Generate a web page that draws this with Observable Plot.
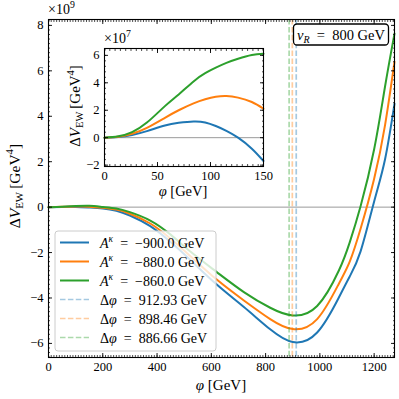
<!DOCTYPE html>
<html><head><meta charset="utf-8">
<script src="https://cdn.jsdelivr.net/npm/d3@7"></script>
<script src="https://cdn.jsdelivr.net/npm/@observablehq/plot@0.6"></script>
<style>
body{margin:0;background:#fff;}
#wrap{position:relative;width:399px;height:399px;font-family:"Liberation Serif",serif;overflow:hidden;}
#wrap > svg, #wrap > figure{position:absolute;margin:0;}
</style></head><body><div id="wrap"></div>
<script>
// ---- main panel data (units 1e9 GeV^4) ----
const phi = [0, 50, 100, 150, 200, 250, 300, 375, 450, 525, 620, 720, 817, 900, 990, 1070, 1110, 1150, 1200, 1240, 1275];
const vBlue = [0, 0.009, 0.010, -0.017, -0.06, -0.16, -0.37, -0.84, -1.54, -2.35, -3.41, -4.40, -5.38, -5.94, -5.52, -3.98, -3.05, -1.95, 0.25, 2.1, 4.55];
const vOrange = [0, 0.015, 0.024, 0.021, -0.03, -0.11, -0.29, -0.72, -1.39, -2.18, -3.19, -4.11, -4.93, -5.37, -4.93, -3.37, -2.4, -0.95, 1.25, 3.6, 6.4];
const vGreen = [0, 0.019, 0.047, 0.061, 0.01, -0.06, -0.22, -0.59, -1.21, -1.98, -2.86, -3.74, -4.43, -4.77, -4.35, -2.79, -1.55, 0.04, 2.55, 5.3, 7.64];
// ---- inset data (units 1e7 GeV^4) ----
const phiIn = [0, 13, 26, 40, 57, 70, 84, 95, 105, 115, 126, 139, 150];
const vBlueIn = [0, 0.05, 0.2, 0.48, 0.89, 1.08, 1.18, 1.11, 0.85, 0.5, 0, -0.8, -1.70];
const vOrangeIn = [0, 0.07, 0.29, 0.72, 1.45, 2.0, 2.5, 2.8, 2.98, 3.03, 2.92, 2.6, 2.11];
const vGreenIn = [0, 0.1, 0.41, 1.1, 2.3, 3.15, 4.1, 4.7, 5.1, 5.45, 5.75, 6.02, 6.12];
// ---- series meta ----
const aKappa = ["−900.0", "−880.0", "−860.0"];
const deltaPhi = [912.93, 898.46, 886.66];
const colors = ["#1f77b4", "#ff7f0e", "#2ca02c"];
const xTicks = [0, 200, 400, 600, 800, 1000, 1200];
const yTicks = [-6, -4, -2, 0, 2, 4, 6, 8];
const xTicksIn = [0, 50, 100, 150];
const yTicksIn = [-2, 0, 2, 4, 6];

const FONT = "Liberation Serif, serif";
const series = [vBlue, vOrange, vGreen];
const seriesIn = [vBlueIn, vOrangeIn, vGreenIn];
const toRows = (xs, ys) => xs.map((x, i) => ({x, y: ys[i]}));
const fmt = d => (d < 0 ? "−" : "") + Math.abs(d);

function frameAxes(xMaj, xMin, yMaj, yMin, pad) {
  const out = [];
  for (const anchor of ["bottom", "top"]) {
    out.push(Plot.axisX(xMaj, {anchor, tickSize: -4, fill: "none", label: null, strokeWidth: 0.9}));
    out.push(Plot.axisX(xMin, {anchor, tickSize: -2, fill: "none", label: null, strokeWidth: 0.7}));
  }
  for (const anchor of ["left", "right"]) {
    out.push(Plot.axisY(yMaj, {anchor, tickSize: -4, fill: "none", label: null, strokeWidth: 0.9}));
    out.push(Plot.axisY(yMin, {anchor, tickSize: -2, fill: "none", label: null, strokeWidth: 0.7}));
  }
  out.push(Plot.axisX(xMaj, {anchor: "bottom", tickSize: 0, tickPadding: pad, label: null, fill: "black", tickFormat: fmt}));
  out.push(Plot.axisY(yMaj, {anchor: "left", tickSize: 0, tickPadding: pad, label: null, fill: "black", tickFormat: fmt}));
  return out;
}

const wrap = document.getElementById("wrap");

// ---- main plot ----
const main = Plot.plot({
  width: 399, height: 399,
  marginLeft: 48, marginRight: 5, marginTop: 19, marginBottom: 42,
  x: {domain: [0, 1275], label: null},
  y: {domain: [-6.62, 8.26], label: null},
  style: {fontFamily: FONT, fontSize: "12.5px", color: "black", background: "white"},
  marks: [
    Plot.ruleY([0], {stroke: "#9a9a9a", strokeWidth: 1}),
    ...series.map((s, i) => Plot.line(toRows(phi, s), {x: "x", y: "y", stroke: colors[i], strokeWidth: 2, curve: "natural"})),
    ...deltaPhi.map((d, i) => Plot.ruleX([d], {stroke: colors[i], strokeOpacity: 0.4, strokeWidth: 1.7, strokeDasharray: "5.5,2.4"})),
    ...frameAxes(xTicks, d3.range(0, 1276, 10), yTicks, d3.range(-6.6, 8.3, 0.2).map(v => +v.toFixed(1)), 5),
    Plot.frame({stroke: "black", strokeWidth: 1.1})
  ]
});
main.style.left = "0px"; main.style.top = "0px";
wrap.appendChild(main);

// ---- inset plot ----
const iml = 40, imt = 20, imr = 10, imb = 35;
const inset = Plot.plot({
  width: iml + 159 + imr, height: imt + 118 + imb,
  marginLeft: iml, marginRight: imr, marginTop: imt, marginBottom: imb,
  x: {domain: [0, 150], label: null},
  y: {domain: [-2.1, 6.5], label: null},
  style: {fontFamily: FONT, fontSize: "12.5px", color: "black", background: "none", overflow: "visible"},
  marks: [
    Plot.frame({fill: "white", stroke: "none"}),
    Plot.ruleY([0], {stroke: "#9a9a9a", strokeWidth: 1}),
    ...seriesIn.map((s, i) => Plot.line(toRows(phiIn, s), {x: "x", y: "y", stroke: colors[i], strokeWidth: 2, curve: "natural"})),
    ...frameAxes(xTicksIn, d3.range(0, 151, 5), yTicksIn, d3.range(-2, 6.5, 0.4).map(v => +v.toFixed(1)), 5),
    Plot.frame({stroke: "black", strokeWidth: 1.1})
  ]
});
inset.style.left = (104 - iml) + "px"; inset.style.top = (48 - imt) + "px";
wrap.appendChild(inset);

// ---- overlay: labels, annotation, legend ----
const ov = d3.select(wrap).append("svg")
  .attr("width", 399).attr("height", 399)
  .style("left", "0px").style("top", "0px")
  .attr("font-family", FONT).attr("fill", "black");

function yLabel(g, x, y, fs) {
  const t = g.append("text").attr("transform", `translate(${x},${y}) rotate(-90)`)
    .attr("text-anchor", "middle").attr("font-size", fs);
  t.append("tspan").text("Δ");
  t.append("tspan").attr("font-style", "italic").text("V");
  t.append("tspan").attr("font-size", fs * 0.7).attr("dy", fs * 0.22).text("EW");
  t.append("tspan").attr("dy", -fs * 0.22).text("\u2009[GeV");
  t.append("tspan").attr("font-size", fs * 0.7).attr("dy", -fs * 0.4).text("4");
  t.append("tspan").attr("dy", fs * 0.4).text("]");
}
function xLabel(g, x, y, fs) {
  const t = g.append("text").attr("x", x).attr("y", y).attr("text-anchor", "middle").attr("font-size", fs);
  t.append("tspan").attr("font-style", "italic").text("φ");
  t.append("tspan").text(" [GeV]");
}
function expo(g, x, y, fs, e) {
  const t = g.append("text").attr("x", x).attr("y", y).attr("font-size", fs);
  t.append("tspan").text("×10");
  t.append("tspan").attr("font-size", fs * 0.7).attr("dy", -fs * 0.4).text(e);
}
yLabel(ov, 19.5, 186, 15.5);
xLabel(ov, 221, 390, 15);
expo(ov, 48, 14, 14, "9");
yLabel(ov, 79.5, 106, 15);
xLabel(ov, 183, 196, 14.5);
expo(ov, 104, 43, 14, "7");

// v_R annotation box
ov.append("rect").attr("x", 293.5).attr("y", 24).attr("width", 95).attr("height", 21).attr("rx", 3.5)
  .attr("fill", "white").attr("stroke", "black").attr("stroke-width", 1.3);
{
  const t = ov.append("text").attr("x", 341).attr("y", 39.5).attr("text-anchor", "middle").attr("font-size", 14.5);
  t.append("tspan").attr("font-style", "italic").text("v");
  t.append("tspan").attr("font-size", 10).attr("font-style", "italic").attr("dy", 3).text("R");
  t.append("tspan").attr("dy", -3).text("\u2002=\u2002800 GeV");
}

// legend
const lg = ov.append("g");
lg.append("rect").attr("x", 55).attr("y", 231).attr("width", 161).attr("height", 120).attr("rx", 3)
  .attr("fill", "white").attr("fill-opacity", 0.8).attr("stroke", "#cccccc").attr("stroke-width", 1);
const rowY = i => 242.5 + i * 19;
aKappa.forEach((a, i) => {
  const y = rowY(i);
  lg.append("line").attr("x1", 60).attr("x2", 89).attr("y1", y).attr("y2", y).attr("stroke", colors[i]).attr("stroke-width", 2);
  const t = lg.append("text").attr("x", 100).attr("y", y + 5).attr("font-size", 14);
  t.append("tspan").attr("font-style", "italic").text("A");
  t.append("tspan").attr("font-size", 9.5).attr("dy", -5.5).attr("font-style", "italic").text("κ");
  t.append("tspan").attr("dy", 5.5).text("\u2002=\u2002" + a + " GeV");
});
deltaPhi.forEach((d, i) => {
  const y = rowY(i + 3);
  lg.append("line").attr("x1", 60).attr("x2", 89).attr("y1", y).attr("y2", y).attr("stroke", colors[i])
    .attr("stroke-opacity", 0.4).attr("stroke-width", 1.7).attr("stroke-dasharray", "5.5,2.4");
  const t = lg.append("text").attr("x", 100).attr("y", y + 5).attr("font-size", 14);
  t.append("tspan").text("Δ");
  t.append("tspan").attr("font-style", "italic").text("φ");
  t.append("tspan").text("\u2002=\u2002" + d.toFixed(2) + " GeV");
});
</script></body></html>
